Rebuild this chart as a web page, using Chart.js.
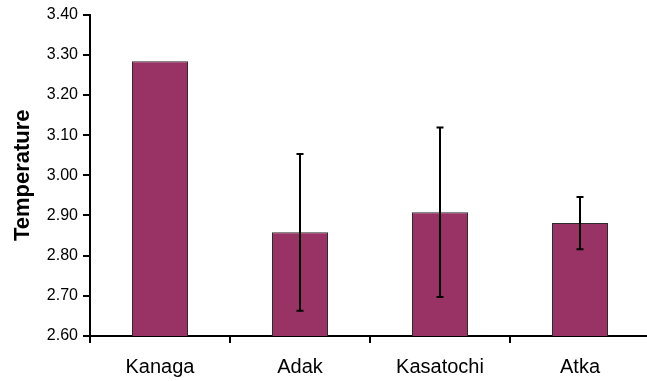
<!DOCTYPE html>
<html>
<head>
<meta charset="utf-8">
<script src="https://cdn.jsdelivr.net/npm/chart.js@4/dist/chart.umd.min.js"></script>
<style>
  html, body { margin: 0; padding: 0; background: #fff; overflow: hidden; }
  #wrap { width: 647px; height: 381px; overflow: hidden; }
  canvas { display: block; }
</style>
</head>
<body>
<div id="wrap"><canvas id="chart" width="652" height="381"></canvas></div>
<script>
// Mean temperature per island, with the error of each mean
const sites = ['Kanaga', 'Adak', 'Kasatochi', 'Atka'];
const meanTemp = [3.284, 2.858, 2.908, 2.881];
const tempError = [0, 0.195, 0.211, 0.065];

// Value axis range and spacing
const yMin = 2.6;
const yMax = 3.4;
const yStep = 0.1;

const FONT = "'Liberation Sans', Arial, Helvetica, sans-serif";

// Draws a vertical whisker with caps at mean ± error for each bar
const errorBars = {
  id: 'errorBars',
  afterDatasetsDraw(chart) {
    const { ctx } = chart;
    const y = chart.scales.y;
    const meta = chart.getDatasetMeta(0);
    ctx.save();
    ctx.strokeStyle = '#000';
    ctx.lineWidth = 2;
    meta.data.forEach((bar, i) => {
      const err = tempError[i];
      if (!err) return;
      const hi = y.getPixelForValue(meanTemp[i] + err);
      const lo = y.getPixelForValue(meanTemp[i] - err);
      const cap = 3.5;
      ctx.beginPath();
      ctx.moveTo(bar.x, hi); ctx.lineTo(bar.x, lo);
      ctx.moveTo(bar.x - cap, hi); ctx.lineTo(bar.x + cap, hi);
      ctx.moveTo(bar.x - cap, lo); ctx.lineTo(bar.x + cap, lo);
      ctx.stroke();
    });
    ctx.restore();
  }
};

new Chart(document.getElementById('chart'), {
  type: 'bar',
  data: {
    labels: sites,
    datasets: [{
      data: meanTemp,
      backgroundColor: '#993366',
      borderColor: '#2b2b2b',
      borderWidth: 1,
      borderSkipped: false,
      barPercentage: 0.4,
      categoryPercentage: 1.0
    }]
  },
  options: {
    responsive: false,
    animation: false,
    devicePixelRatio: 1,
    layout: { padding: { top: 14, right: 2, left: 0, bottom: 0 } },
    plugins: {
      legend: { display: false },
      tooltip: { enabled: false }
    },
    scales: {
      x: {
        grid: {
          offset: true,
          drawOnChartArea: false,
          drawTicks: true,
          tickLength: 7,
          color: '#000',
          lineWidth: 2
        },
        border: { display: true, color: '#000', width: 2 },
        ticks: {
          color: '#000',
          padding: 12,
          maxRotation: 0,
          font: { family: FONT, size: 20 }
        },
        afterFit(scale) { scale.height = 45; }
      },
      y: {
        min: yMin,
        max: yMax,
        grid: {
          drawOnChartArea: false,
          drawTicks: true,
          tickLength: 7,
          color: '#000',
          lineWidth: 2
        },
        border: { display: true, color: '#000', width: 2 },
        ticks: {
          stepSize: yStep,
          color: '#000',
          padding: 5,
          font: { family: FONT, size: 16 },
          callback: v => Number(v).toFixed(2)
        },
        title: {
          display: true,
          text: 'Temperature',
          color: '#000',
          padding: { top: 10, bottom: 0 },
          font: { family: FONT, size: 22, weight: 'bold' }
        },
        afterFit(scale) { scale.width = 90; }
      }
    }
  },
  plugins: [errorBars]
});
</script>
</body>
</html>
